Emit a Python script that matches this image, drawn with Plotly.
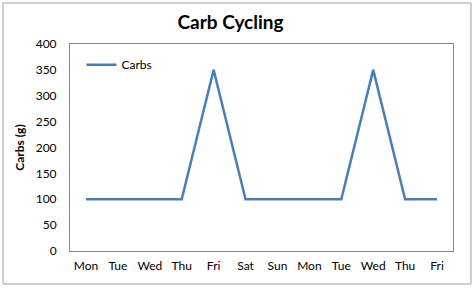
import plotly.graph_objects as go

days = ["Mon", "Tue", "Wed", "Thu", "Fri", "Sat", "Sun", "Mon", "Tue", "Wed", "Thu", "Fri"]
carbs = [100, 100, 100, 100, 350, 100, 100, 100, 100, 350, 100, 100]
y_ticks = [0, 50, 100, 150, 200, 250, 300, 350, 400]

W, H = 474, 288
L, R, T, B = 70, 21, 44, 37
pw, ph = W - L - R, H - T - B

x = list(range(len(days)))

fig = go.Figure()
fig.add_trace(go.Scatter(x=x, y=carbs, mode="lines", name="Carbs",
                         line=dict(color="#4A7EBB", width=2.5)))

font = "Lato, 'Open Sans', sans-serif"
fig.update_layout(
    width=W, height=H,
    margin=dict(l=L, r=R, t=T, b=B),
    paper_bgcolor="white", plot_bgcolor="white",
    font=dict(family=font, size=12, color="#000000"),
    title=dict(text="<b>Carb Cycling</b>", x=230.5 / W, xanchor="center", xref="container",
               y=1 - 22 / H, yanchor="middle",
               font=dict(size=19, family=font, color="#000000")),
    showlegend=True,
    legend=dict(x=0.03, y=0.97, xanchor="left", yanchor="top",
                bgcolor="rgba(0,0,0,0)", font=dict(size=12, family=font)),
    xaxis=dict(range=[-0.5, len(days) - 0.5], tickvals=x, ticktext=days,
               showgrid=False, zeroline=False, showline=True, linecolor="#868686",
               linewidth=1, mirror=True, ticks="", ticklabelstandoff=4,
               tickfont=dict(size=12)),
    yaxis=dict(range=[0, 400], tickvals=y_ticks, showgrid=False, zeroline=False,
               showline=True, linecolor="#868686", linewidth=1, mirror=True,
               ticks="", ticklabelstandoff=10, tickfont=dict(size=12),
               title=dict(text="<b>Carbs (g)</b>", font=dict(size=12), standoff=8)),
)

# outer chart border
x0 = (3 - L) / pw
x1 = (471 - L) / pw
y1 = (T + ph - 3) / ph
y0 = (T + ph - 284) / ph
fig.add_shape(type="rect", xref="paper", yref="paper", x0=x0, x1=x1, y0=y0, y1=y1,
              line=dict(color="#A0A0A0", width=1), fillcolor="rgba(0,0,0,0)", layer="below")

fig.write_html("out.html")
